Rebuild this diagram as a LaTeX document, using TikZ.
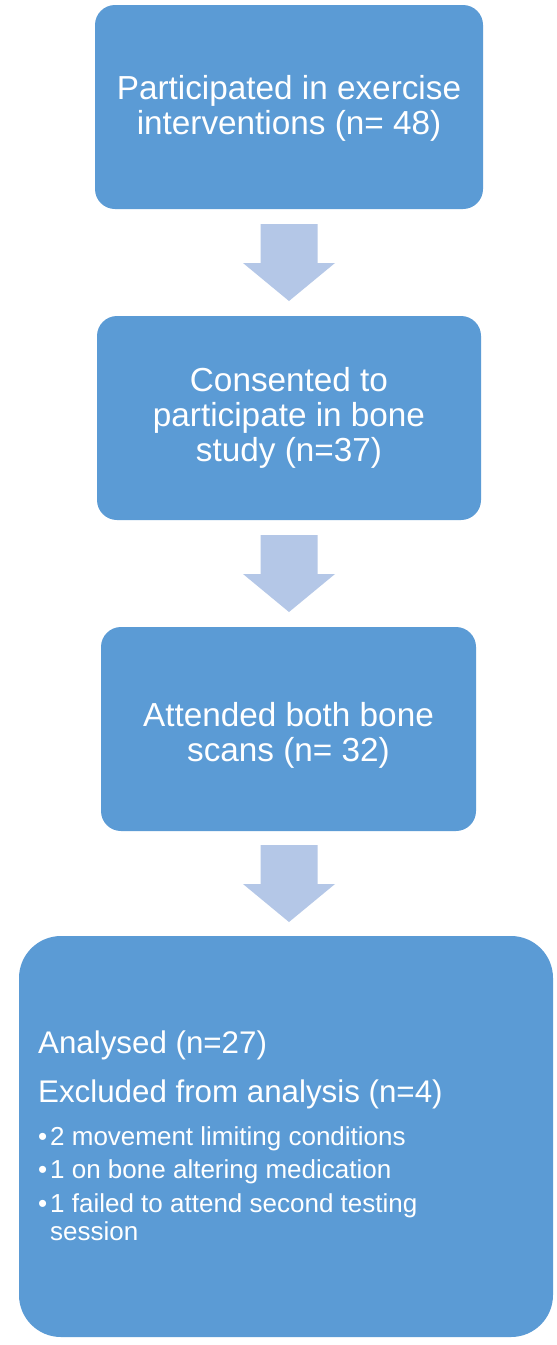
\documentclass[tikz,border=0pt]{standalone}
\usepackage{fontspec}
\setmainfont{Liberation Sans}
\definecolor{boxblue}{HTML}{5B9BD5}
\definecolor{arrowblue}{HTML}{B4C7E7}
\begin{document}
\begin{tikzpicture}[x=1pt,y=-1pt,
  flowbox/.style={fill=boxblue,draw=none,rounded corners=20pt},
  bigbox/.style={fill=boxblue,draw=none,rounded corners=42pt},
  boxtext/.style={text=white,align=center,font=\fontsize{33.3}{35}\selectfont,inner sep=0pt,anchor=base},
  bigtext/.style={anchor=base west,text=white,inner sep=0pt,font=\fontsize{31.3}{35}\selectfont},
  bullettext/.style={anchor=base west,text=white,inner sep=0pt,font=\fontsize{26}{28}\selectfont},
  blockarrow/.style={fill=arrowblue,draw=none}]
\useasboundingbox[fill=white] (0,0) rectangle (557,1345);
% boxes
\fill[flowbox] (95,5) rectangle (483,209);
\fill[flowbox] (97,316) rectangle (481,520);
\fill[flowbox] (101,627) rectangle (476,831);
\fill[bigbox] (19,936) rectangle (553,1337);
% box texts (anchor = baseline of last line)
\node[boxtext] (t1) at (289,134) {Participated in exercise\\interventions (n= 48)};
\node[boxtext] (t2) at (289,461) {Consented to\\participate in bone\\study (n=37)};
\node[boxtext] (t3) at (288.5,761) {Attended both bone\\scans (n= 32)};
% arrows
\newcommand{\blockarr}[2]{%
  \fill[blockarrow] (#1-28.5,#2) -- (#1+28.5,#2) -- (#1+28.5,#2+39) -- (#1+46,#2+39)
    -- (#1,#2+77) -- (#1-46,#2+39) -- (#1-28.5,#2+39) -- cycle;}
\blockarr{289}{224}
\blockarr{289}{535}
\blockarr{289}{845}
% last box text
\node[bigtext] (a1) at (38,1053) {Analysed (n=27)};
\node[bigtext] (a2) at (38,1102) {Excluded from analysis (n=4)};
\node[bullettext] (d1) at (38,1145) {•};
\node[bullettext] (l1) at (50,1145) {2 movement limiting conditions};
\node[bullettext] (d2) at (38,1178) {•};
\node[bullettext] (l2) at (50,1178) {1 on bone altering medication};
\node[bullettext] (d3) at (38,1212) {•};
\node[bullettext] (l3) at (50,1212) {1 failed to attend second testing};
\node[bullettext] (l4) at (50,1240) {session};
\end{tikzpicture}
\end{document}
